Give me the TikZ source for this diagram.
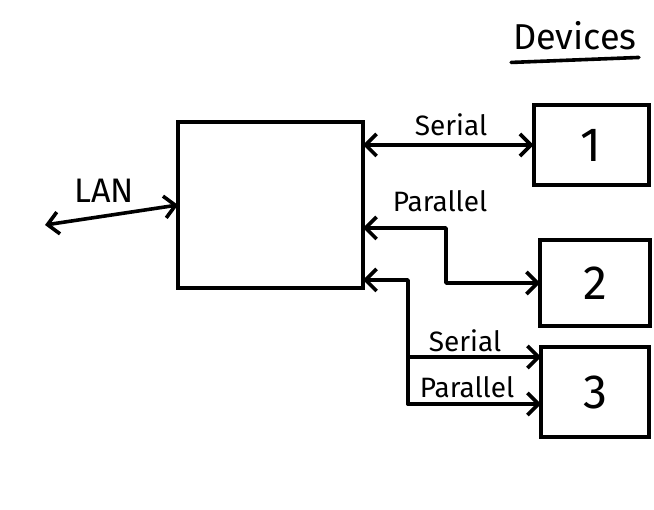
\documentclass[tikz,border=0pt]{standalone}
\usepackage{fontspec}
\setmainfont{Fira Sans}
\usetikzlibrary{arrows.meta,calc}
\begin{document}
\begin{tikzpicture}[x=1pt,y=-1pt,
  >={Straight Barb[length=11pt,width=22pt]},
  ln/.style={line width=3.6pt, line cap=round, line join=round},
  box/.style={draw, line width=4pt, inner sep=0pt, outer sep=0pt},
  lbl/.style={font=\fontsize{28}{28}\selectfont, inner sep=1pt},
  num/.style={font=\fontsize{48}{48}\selectfont}]
\useasboundingbox (0,0) rectangle (654,510);
% boxes
\node[box, minimum width=185pt, minimum height=166pt] (main) at (270.5,205) {};
\node[box, minimum width=115pt, minimum height=80pt, num] (b1) at (591,145) {1};
\node[box, minimum width=110pt, minimum height=86pt, num] (b2) at (595,283) {2};
\node[box, minimum width=108pt, minimum height=90pt, num] (b3) at (595,392) {3};
% title
\node[font=\fontsize{36}{36}\selectfont, inner sep=0pt] (dev) at (575,36) {Devices};
\draw[ln] ($(dev.south west)+(-2,12)$) -- ($(dev.south east)+(2,7)$);
% LAN
\coordinate (lan) at (45,225);
\draw[ln,<->] (lan) -- (main.west);
\node[lbl, font=\fontsize{34}{34}\selectfont] (lanl) at (104,191) {LAN};
% serial 1
\draw[ln,<->] (main.east |- b1.west) -- (b1.west);
\node[lbl] (s1) at (451,125) {Serial};
% parallel 1 -> box 2
\coordinate (p1) at ($(main.east)+(0,23)$);
\coordinate (p1c) at (446,228);
\draw[ln,<->] (p1) -- (p1c) |- (b2.west);
\node[lbl] (pl1) at (440,201) {Parallel};
% box 3 connectors
\coordinate (j0) at (408,280);
\coordinate (j1) at (408,357);
\coordinate (j2) at (408,404);
\draw[ln,<-] (main.east |- j0) -- (j0) -- (j2);
\draw[ln,->] (j1) -- (j1 -| b3.west);
\draw[ln,->] (j2) -- (j2 -| b3.west);
\node[lbl] (s2) at (465,341) {Serial};
\node[lbl] (pl2) at (467,387) {Parallel};
\end{tikzpicture}
\end{document}
